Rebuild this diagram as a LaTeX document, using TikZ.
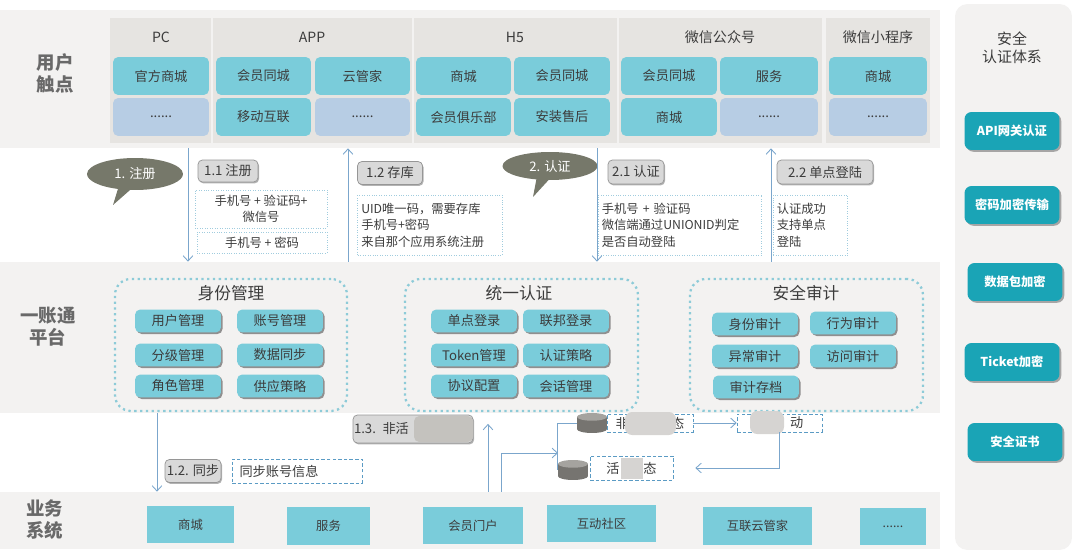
\documentclass[tikz,border=0pt]{standalone}
\usepackage{fontspec}
\setmainfont{Noto Sans CJK SC}
\usepackage{tikz}
\usetikzlibrary{shapes.geometric, shapes.callouts, arrows.meta, shadows}
\definecolor{Band}{RGB}{243, 242, 241}
\definecolor{Header}{RGB}{230, 228, 225}
\definecolor{Teal}{RGB}{122, 204, 218}
\definecolor{PaleBlue}{RGB}{183, 205, 228}
\definecolor{Key}{RGB}{26, 164, 182}
\definecolor{Olive}{RGB}{118, 120, 106}
\definecolor{Tag}{RGB}{217, 217, 217}
\definecolor{TagEdge}{RGB}{150, 150, 150}
\definecolor{Line}{RGB}{123, 166, 204}
\definecolor{NoteEdge}{RGB}{160, 204, 222}
\definecolor{Group}{RGB}{141, 203, 216}
\definecolor{Dash}{RGB}{91, 155, 196}
\definecolor{Ink}{RGB}{60, 60, 60}
\definecolor{Side}{RGB}{105, 105, 105}
\definecolor{Drum}{RGB}{118, 116, 112}
\definecolor{DrumTop}{RGB}{165, 163, 159}
\definecolor{Blur}{RGB}{196, 194, 190}

\begin{document}
\begin{tikzpicture}[
        x=0.02cm, y=-0.02cm,
        band/.style={
            rectangle,
            fill=Band,
            inner sep=0pt
        },
        side/.style={
            align=center,
            text=Side,
            font=\bfseries\fontsize{10.5}{12.5}\selectfont
        },
        head/.style={
            text=Ink,
            font=\fontsize{8}{10}\selectfont
        },
        entry/.style={
            rectangle,
            fill=Teal,
            rounded corners=3pt,
            inner sep=0pt,
            minimum width=1.92cm,
            minimum height=0.76cm,
            text=Ink,
            font=\fontsize{7.5}{9}\selectfont
        },
        more/.style={
            entry,
            fill=PaleBlue
        },
        item/.style={
            entry,
            minimum width=1.72cm,
            minimum height=0.46cm,
            drop shadow={shadow xshift=0.9pt, shadow yshift=-0.9pt, fill=black!60, opacity=0.7}
        },
        tag/.style={
            rectangle,
            fill=Tag,
            draw=TagEdge,
            rounded corners=2.5pt,
            inner sep=1pt,
            text=Ink,
            font=\fontsize{7.5}{9}\selectfont,
            drop shadow={shadow xshift=0.6pt, shadow yshift=-0.8pt, fill=black!50, opacity=0.6}
        },
        note/.style={
            rectangle,
            draw=NoteEdge,
            densely dotted,
            inner sep=2pt,
            text=Ink,
            font=\fontsize{7}{9.4}\selectfont
        },
        memo/.style={
            rectangle,
            draw=Dash,
            dash pattern=on 2pt off 1.2pt,
            inner sep=2pt,
            text=Ink,
            font=\fontsize{7.5}{9}\selectfont
        },
        bubble/.style={
            ellipse callout,
            fill=Olive,
            inner sep=0pt,
            text=white,
            font=\fontsize{7.5}{9}\selectfont
        },
        group/.style={
            rectangle,
            draw=Group,
            dotted,
            line width=1.3pt,
            rounded corners=9pt,
            inner sep=0pt
        },
        title/.style={
            text=Ink,
            font=\fontsize{9.5}{11}\selectfont
        },
        system/.style={
            rectangle,
            fill=Teal,
            inner sep=0pt,
            minimum height=0.76cm,
            text=Ink,
            font=\fontsize{7}{9}\selectfont
        },
        key/.style={
            rectangle,
            fill=Key,
            rounded corners=4pt,
            minimum width=1.9cm,
            minimum height=0.76cm,
            text=white,
            font=\bfseries\fontsize{7}{9}\selectfont,
            drop shadow={shadow xshift=1pt, shadow yshift=-1pt, fill=black!55, opacity=0.6}
        },
        db/.style={
            rectangle,
            inner sep=0pt,
            minimum width=0.6cm,
            minimum height=0.4cm,
            path picture={
                \fill[Drum] ([yshift=2.2pt]path picture bounding box.south) ellipse [x radius=0.3cm, y radius=2.2pt];
                \fill[Drum] ([yshift=-2.2pt]path picture bounding box.north west) rectangle ([yshift=2.2pt]path picture bounding box.south east);
                \fill[DrumTop] ([yshift=-2.2pt]path picture bounding box.north) ellipse [x radius=0.3cm, y radius=2.2pt];
            }
        },
        flow/.style={
            ->,
            >={Straight Barb[length=3pt, width=5.5pt]},
            draw=Line,
            line width=0.5pt
        }
    ]
        \useasboundingbox (0,0) rectangle (1080,554);

        % Bands
        \node[band, minimum width=18.8cm, minimum height=2.76cm] (touch) at (470,79) {};
        \node[band, minimum width=18.8cm, minimum height=3.02cm] (platform) at (470,337.5) {};
        \node[band, minimum width=18.8cm, minimum height=1.14cm] (business) at (470,520.5) {};
        \node[band, rounded corners=7pt, minimum width=2.34cm, minimum height=10.92cm] (security) at (1013.5,277) {};

        % User touch points
        \fill[Header] (110,18) rectangle (211,143);
        \fill[Header] (213,18) rectangle (412,143);
        \fill[Header] (414,18) rectangle (617,143);
        \fill[Header] (619,18) rectangle (822,143);
        \fill[Header] (826,18) rectangle (930,143);
        \node[side] (touchLabel) at (55,73) {用户\\触点};
        \node[head] (pc) at (161,37) {PC};
        \node[head] (app) at (312,37) {APP};
        \node[head] (h5) at (515,37) {H5};
        \node[head] (wx) at (720,37) {微信公众号};
        \node[head] (mini) at (878,37) {微信小程序};

        \node[entry] (pcShop) at (161,76) {官方商城};
        \node[more] (pcMore) at (161,117) {......};
        \node[entry, minimum width=1.9cm] (appMember) at (263.5,76) {会员同城};
        \node[entry, minimum width=1.9cm] (appCloud) at (362.5,76) {云管家};
        \node[entry, minimum width=1.9cm] (appMobile) at (263.5,117) {移动互联};
        \node[more, minimum width=1.9cm] (appMore) at (362.5,117) {......};
        \node[entry, minimum width=1.9cm] (h5Shop) at (463.5,76) {商城};
        \node[entry] (h5Member) at (562,76) {会员同城};
        \node[entry, minimum width=1.9cm] (h5Club) at (463.5,117) {会员俱乐部};
        \node[entry] (h5Service) at (562,117) {安装售后};
        \node[entry] (wxMember) at (669,76) {会员同城};
        \node[entry, minimum width=1.96cm] (wxService) at (769,76) {服务};
        \node[entry] (wxShop) at (669,117) {商城};
        \node[more, minimum width=1.96cm] (wxMore) at (769,117) {......};
        \node[entry, minimum width=1.96cm] (miniShop) at (878,76) {商城};
        \node[more, minimum width=1.96cm] (miniMore) at (878,117) {......};

        % Register and authenticate
        \node[bubble, minimum width=1.92cm, minimum height=0.64cm, callout absolute pointer={(113,205)}] (register) at (135,174) {1. 注册};
        \node[bubble, minimum width=1.9cm, minimum height=0.56cm, callout absolute pointer={(533,197)}] (auth) at (550,166) {2. 认证};

        \node[tag, minimum width=1.2cm, minimum height=0.44cm] (regTag) at (228,171) {1.1 注册};
        \node[tag, minimum width=1.3cm, minimum height=0.46cm] (storeTag) at (390,173) {1.2 存库};
        \node[tag, minimum width=1.12cm, minimum height=0.48cm] (authTag) at (636,172) {2.1 认证};
        \node[tag, minimum width=1.92cm, minimum height=0.48cm] (ssoTag) at (825,172) {2.2 单点登陆};

        \node[note, align=center, minimum width=2.64cm, minimum height=0.76cm] (regCode) at (261,209) {手机号 + 验证码+\\微信号};
        \node[note, minimum width=2.6cm, minimum height=0.42cm] (regPass) at (262,242.5) {手机号 + 密码};
        \node[note, align=left, text width=2.75cm, minimum height=1.2cm] (storeNote) at (430,225) {UID唯一码，需要存库\\手机号+密码\\来自那个应用系统注册};
        \node[note, align=left, text width=3.13cm, minimum height=1.2cm] (authNote) at (680,225) {手机号 + 验证码\\微信端通过UNIONID判定\\是否自动登陆\\[6pt]};
        \node[note, align=left, text width=1.35cm, minimum height=1.2cm] (ssoNote) at (810.5,225) {认证成功\\支持单点\\登陆};

        \draw[flow] (touch.south -| 188,0) -- (platform.north -| 188,0);
        \draw[flow] (platform.north -| 348,0) -- (touch.south -| 348,0);
        \draw[flow] (touch.south -| 597,0) -- (platform.north -| 597,0);
        \draw[flow] (platform.north -| 771,0) -- (touch.south -| 771,0);

        % Account platform
        \node[side] (platformLabel) at (48,327) {一账通\\平台};

        \node[group, minimum width=4.64cm, minimum height=2.64cm] (identity) at (231,345) {};
        \node[title] (identityTitle) at (231,293) {身份管理};
        \node[item] (userMgmt) at (178,321) {用户管理};
        \node[item] (accountMgmt) at (280,321) {账号管理};
        \node[item] (levelMgmt) at (178,355) {分级管理};
        \node[item] (dataSync) at (280,355) {数据同步};
        \node[item] (roleMgmt) at (178,386) {角色管理};
        \node[item] (supply) at (280,386) {供应策略};

        \node[group, minimum width=4.66cm, minimum height=2.64cm] (unified) at (521.5,345) {};
        \node[title] (unifiedTitle) at (519,293) {统一认证};
        \node[item] (singleLogin) at (474,321) {单点登录};
        \node[item] (fedLogin) at (566,321) {联邦登录};
        \node[item] (token) at (474,355) {Token管理};
        \node[item] (policy) at (566,355) {认证策略};
        \node[item] (protocol) at (474,386) {协议配置};
        \node[item] (session) at (566,386) {会话管理};

        \node[group, minimum width=4.66cm, minimum height=2.64cm] (audit) at (806.5,345) {};
        \node[title] (auditTitle) at (806,293) {安全审计};
        \node[item] (idAudit) at (755,324) {身份审计};
        \node[item] (actAudit) at (853,323) {行为审计};
        \node[item] (errAudit) at (755,356) {异常审计};
        \node[item] (visitAudit) at (853,356) {访问审计};
        \node[item] (archive) at (756,387) {审计存档};

        % Sync and inactive accounts
        \node[tag, minimum width=1.12cm, minimum height=0.46cm] (syncTag) at (193,471) {1.2. 同步};
        \node[memo, minimum width=2.6cm, minimum height=0.48cm, align=left, text width=2.3cm] (syncNote) at (297,471) {同步账号信息};
        \node[tag, minimum width=2.4cm, minimum height=0.56cm, align=left, text width=2.36cm, inner sep=0.5pt] (idleTag) at (413,429) {1.3. 非活};
        \fill[Blur, rounded corners=3pt] (414,416) rectangle (473,442);

        \node[db] (dbOff) at (592,423) {};
        \node[db] (dbOn) at (573,470) {};
        \node[memo, minimum width=1.72cm, minimum height=0.36cm, inner sep=1pt] (offState) at (650,423) {非\hspace{3.2em}态};
        \node[memo, minimum width=1.7cm, minimum height=0.36cm, inner sep=1pt] (wake) at (779.5,423) {\hspace{2.6em}动};
        \node[memo, minimum width=1.66cm, minimum height=0.48cm, inner sep=1pt] (onState) at (631.5,468) {活\hspace{1.8em}态};
        \fill[Blur!70!white, rounded corners=4pt] (625,412) rectangle (676,435);
        \fill[Blur!70!white, rounded corners=4pt] (750,411) rectangle (784,434);
        \fill[Blur!70!white] (621,458) rectangle (643,479);
        \coordinate (fork) at (558,453);

        \draw[flow] (platform.south -| 157,0) -- (business.north -| 157,0);
        \draw[flow, shorten >=6pt] (business.north -| 488,0) -- (platform.south -| 488,0);
        \draw[flow] (business.north -| 501,0) |- (fork);
        \draw[draw=Line, line width=0.5pt] (dbOff.west) -| (dbOn.west);
        \draw[flow] (offState) -- (wake);
        \draw[flow, shorten >=0.44cm] (wake.south -| 779,0) |- (onState.east);

        % Business systems
        \node[side] (businessLabel) at (45,520) {业务\\系统};
        \node[system, minimum width=1.74cm] (shop) at (190.5,524.5) {商城};
        \node[system, minimum width=1.66cm] (service) at (328.5,526) {服务};
        \node[system, minimum width=2cm] (portal) at (473,525.5) {会员门户};
        \node[system, minimum width=2.18cm] (community) at (601.5,523.5) {互动社区};
        \node[system, minimum width=2.18cm] (steward) at (757.5,526) {互联云管家};
        \node[system, minimum width=1.32cm] (others) at (893,526.5) {......};

        % Security system
        \node[title, align=center, font=\fontsize{8.5}{10.5}\selectfont] (securityTitle) at (1012,48) {安全\\认证体系};
        \node[key] (gateway) at (1012,131) {API网关认证};
        \node[key] (password) at (1012,205) {密码加密传输};
        \node[key] (packet) at (1015,282) {数据包加密};
        \node[key] (ticket) at (1012,362) {Ticket加密};
        \node[key] (cert) at (1015,442) {安全证书};
    \end{tikzpicture}
\end{document}
